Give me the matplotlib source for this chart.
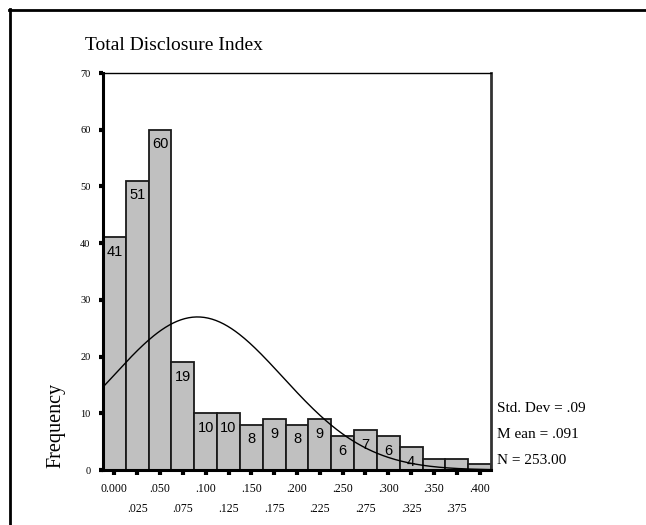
import numpy as np
import matplotlib
matplotlib.use('Agg')
import matplotlib.pyplot as plt
from matplotlib.lines import Line2D

# Histogram bins (centres) and counts
bin_centers = [0.000, 0.025, 0.050, 0.075, 0.100, 0.125, 0.150, 0.175, 0.200,
               0.225, 0.250, 0.275, 0.300, 0.325, 0.350, 0.375, 0.400]
counts = [41, 51, 60, 19, 10, 10, 8, 9, 8, 9, 6, 7, 6, 4, 2, 2, 1]
bin_labels = ['0.000', '.025', '.050', '.075', '.100', '.125', '.150', '.175', '.200',
              '.225', '.250', '.275', '.300', '.325', '.350', '.375', '.400']
y_ticks = [0, 10, 20, 30, 40, 50, 60, 70]

mean_val = 0.091
std_dev = 0.0935
n_total = 253
stats_lines = ['Std. Dev = .09', 'M ean = .091', 'N = 253.00']

bin_width = 0.025
serif = 'Liberation Serif'
sans = 'Liberation Sans'

fig = plt.figure(figsize=(6.46, 5.25), dpi=100)
ax = fig.add_axes([103 / 646, 1 - 470 / 525, 388 / 646, 397 / 525])

# bars
ax.bar(bin_centers, counts, width=bin_width, color='#c0c0c0',
       edgecolor='#1a1a1a', linewidth=1.3, zorder=2)

# count labels inside the bars (only bars tall enough)
for x, c in zip(bin_centers, counts):
    if c >= 4:
        ax.annotate(str(c), (x, c), xytext=(0, -5.5), textcoords='offset points',
                    ha='center', va='top', fontsize=10.5, family=sans, zorder=4)

# fitted normal curve
xs = np.linspace(-0.0125, 0.4125, 300)
ys = n_total * bin_width / (std_dev * np.sqrt(2 * np.pi)) * np.exp(-0.5 * ((xs - mean_val) / std_dev) ** 2)
ax.plot(xs, ys, color='black', linewidth=1.0, zorder=3)

ax.set_xlim(-0.0125, 0.4125)
ax.set_ylim(0, 70)

# y axis
ax.set_yticks(y_ticks)
ax.set_yticklabels([str(v) for v in y_ticks], family=serif, fontsize=7.5)
ax.tick_params(axis='y', direction='out', length=3, width=3, pad=6, color='black')

# x axis: two staggered rows of labels
ax.set_xticks(bin_centers[0::2])
ax.set_xticklabels(bin_labels[0::2], family=serif, fontsize=8.5)
ax.set_xticks(bin_centers[1::2], minor=True)
ax.set_xticklabels(bin_labels[1::2], minor=True, family=serif, fontsize=8.5)
ax.tick_params(axis='x', which='major', direction='out', length=3.5, width=3, pad=6)
ax.tick_params(axis='x', which='minor', direction='out', length=3.5, width=3, pad=20)

for side in ['left', 'bottom']:
    ax.spines[side].set_linewidth(2.2)
    ax.spines[side].set_color('black')
ax.spines['top'].set_linewidth(1.0)
ax.spines['right'].set_linewidth(2.0)
ax.spines['right'].set_color('#333333')

# title, axis label, stats
fig.text(85 / 646, 1 - 45 / 525, 'Total Disclosure Index', family=serif,
         fontsize=14, ha='left', va='center')
fig.text(56 / 646, 1 - 425 / 525, 'Frequency', family=serif, fontsize=14.5,
         rotation=90, ha='center', va='center')
for i, line in enumerate(stats_lines):
    fig.text(497 / 646, 1 - (409 + i * 26) / 525, line, family=serif,
             fontsize=11, ha='left', va='center')

# outer frame (top and left edges)
fig.add_artist(Line2D([9 / 646, 1], [1 - 9.5 / 525, 1 - 9.5 / 525], color='black', linewidth=2))
fig.add_artist(Line2D([9.5 / 646, 9.5 / 646], [0, 1 - 9 / 525], color='black', linewidth=2))

fig.savefig('out.png', dpi=100)
